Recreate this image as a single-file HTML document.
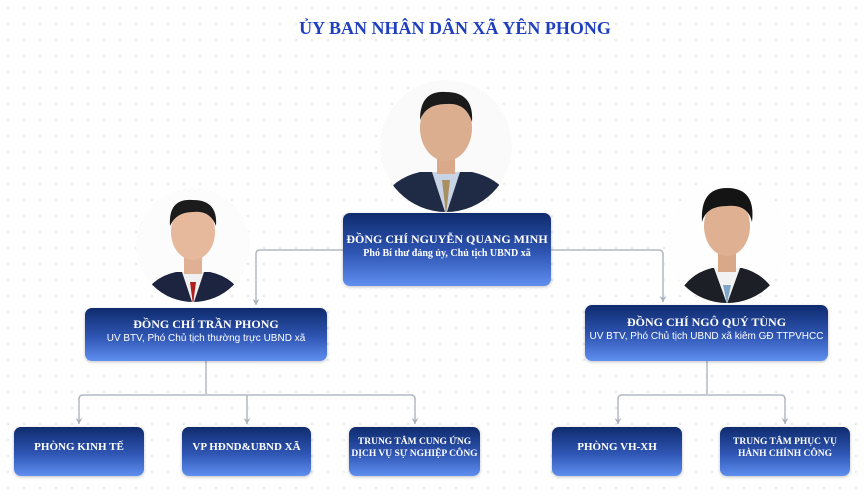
<!DOCTYPE html>
<html><head><meta charset="utf-8"><style>
*{margin:0;padding:0;box-sizing:border-box}
body{width:868px;height:499px;overflow:hidden;background:#fff;background-image:radial-gradient(#e4e6ec 1px,transparent 1.2px);background-size:16px 16px;position:relative;font-family:"Liberation Serif",serif}
.t{position:absolute;top:18px;left:0;width:910px;text-align:center;color:#1f3fbf;font-weight:bold;font-size:18px}
.b{position:absolute;border-radius:7px;background:linear-gradient(#0f2b6e,#2f56b4 55%,#5f8ff0);color:#fff;text-align:center;display:flex;flex-direction:column;justify-content:center;padding-bottom:8px;box-shadow:0 1px 3px rgba(0,0,0,.25)}
.n{font-weight:bold;font-size:12px;line-height:15px}
.s{font-size:10px;line-height:13px;font-family:"Liberation Sans",sans-serif}
.s2{font-weight:bold;font-size:10px;line-height:13px}
.sm{font-weight:bold;font-size:9.5px;line-height:12px;white-space:nowrap}
svg{position:absolute;left:0;top:0}
</style></head><body>
<div class="t">ỦY BAN NHÂN DÂN XÃ YÊN PHONG</div>
<svg width="868" height="499">
<defs>
<marker id="a" markerWidth="8" markerHeight="8" refX="4" refY="6" orient="0" markerUnits="userSpaceOnUse"><path d="M0.5,0 L4,6 L7.5,0 L4,2Z" fill="#a9b0bb"/></marker>
<clipPath id="c1"><circle cx="446" cy="146" r="66"/></clipPath>
<clipPath id="c2"><circle cx="193" cy="245" r="57"/></clipPath>
<clipPath id="c3"><circle cx="727" cy="242" r="61"/></clipPath>
</defs>
<g fill="none" stroke="#b3b9c3" stroke-width="1.5">
<path d="M343,250 H260 Q256,250 256,254 V305" marker-end="url(#a)"/>
<path d="M551,250 H659 Q663,250 663,254 V302" marker-end="url(#a)"/>
<path d="M206,360 V394"/><path d="M83,395 H411"/>
<path d="M79,399 Q79,395 83,395"/><path d="M411,395 Q415,395 415,399"/>
<path d="M79,398 V424" marker-end="url(#a)"/><path d="M247,395 V424" marker-end="url(#a)"/><path d="M415,398 V424" marker-end="url(#a)"/>
<path d="M707,360 V394"/><path d="M622,395 H781"/>
<path d="M618,399 Q618,395 622,395"/><path d="M781,395 Q785,395 785,399"/>
<path d="M618,398 V424" marker-end="url(#a)"/><path d="M785,398 V424" marker-end="url(#a)"/>
</g>
<g clip-path="url(#c1)">
<circle cx="446" cy="146" r="66" fill="#fafafa"/>
<path d="M376,215 Q385,180 420,172 L472,172 Q508,180 518,215Z" fill="#1f2a44"/>
<path d="M432,172 L446,215 L460,172Z" fill="#c9d3e6"/><path d="M442,180 L446,215 L450,180Z" fill="#a89060"/>
<rect x="437" y="150" width="18" height="24" fill="#d9a98a"/>
<ellipse cx="446" cy="128" rx="26" ry="33" fill="#dcae90"/>
<path d="M420,120 Q420,90 446,92 Q474,92 472,122 Q466,102 446,104 Q426,104 420,120Z" fill="#1a1a1a"/>
</g>
<g clip-path="url(#c2)">
<circle cx="193" cy="245" r="57" fill="#fcfcfc"/>
<path d="M140,305 Q148,278 176,272 L210,272 Q238,278 246,305Z" fill="#1d2440"/>
<path d="M182,272 L193,305 L204,272Z" fill="#f0f0f0"/><path d="M190,282 L193,305 L196,282Z" fill="#b02020"/>
<rect x="184" y="252" width="18" height="22" fill="#e0b094"/>
<ellipse cx="193" cy="232" rx="22" ry="28" fill="#e6b99c"/>
<path d="M170,226 Q168,198 193,200 Q218,200 216,226 Q210,210 193,212 Q176,212 170,226Z" fill="#1b1b1b"/>
</g>
<g clip-path="url(#c3)">
<circle cx="727" cy="242" r="61" fill="#fefefe"/>
<path d="M675,304 Q684,275 712,268 L742,268 Q770,275 780,304Z" fill="#1c1f26"/>
<path d="M714,268 L727,304 L740,268Z" fill="#f2f2f2"/><path d="M723,285 L727,304 L731,285Z" fill="#7fa6c8"/>
<rect x="718" y="250" width="18" height="22" fill="#d8a888"/>
<ellipse cx="727" cy="226" rx="23" ry="30" fill="#dfb092"/>
<path d="M702,222 Q700,188 727,188 Q756,188 752,222 Q748,204 727,206 Q706,206 702,222Z" fill="#141414"/>
</g>
</svg>
<div class="b" style="left:343px;top:213px;width:208px;height:73px"><div class="n">ĐỒNG CHÍ NGUYỄN QUANG MINH</div><div class="s2">Phó Bí thư đảng ủy, Chủ tịch UBND xã</div></div>
<div class="b" style="left:85px;top:308px;width:242px;height:53px"><div class="n">ĐỒNG CHÍ TRẦN PHONG</div><div class="s">UV BTV, Phó Chủ tịch thường trực UBND xã</div></div>
<div class="b" style="left:585px;top:305px;width:243px;height:56px"><div class="n">ĐỒNG CHÍ NGÔ QUÝ TÙNG</div><div class="s">UV BTV, Phó Chủ tịch UBND xã kiêm GĐ TTPVHCC</div></div>
<div class="b" style="left:14px;top:427px;width:130px;height:49px"><div class="n" style="font-size:11px">PHÒNG KINH TẾ</div></div>
<div class="b" style="left:182px;top:427px;width:129px;height:49px"><div class="n" style="font-size:11px">VP HĐND&amp;UBND XÃ</div></div>
<div class="b" style="left:349px;top:427px;width:131px;height:49px"><div class="sm">TRUNG TÂM CUNG ỨNG<br>DỊCH VỤ SỰ NGHIỆP CÔNG</div></div>
<div class="b" style="left:552px;top:427px;width:130px;height:49px"><div class="n" style="font-size:11px">PHÒNG VH-XH</div></div>
<div class="b" style="left:720px;top:427px;width:130px;height:49px"><div class="sm">TRUNG TÂM PHỤC VỤ<br>HÀNH CHÍNH CÔNG</div></div>
</body></html>
